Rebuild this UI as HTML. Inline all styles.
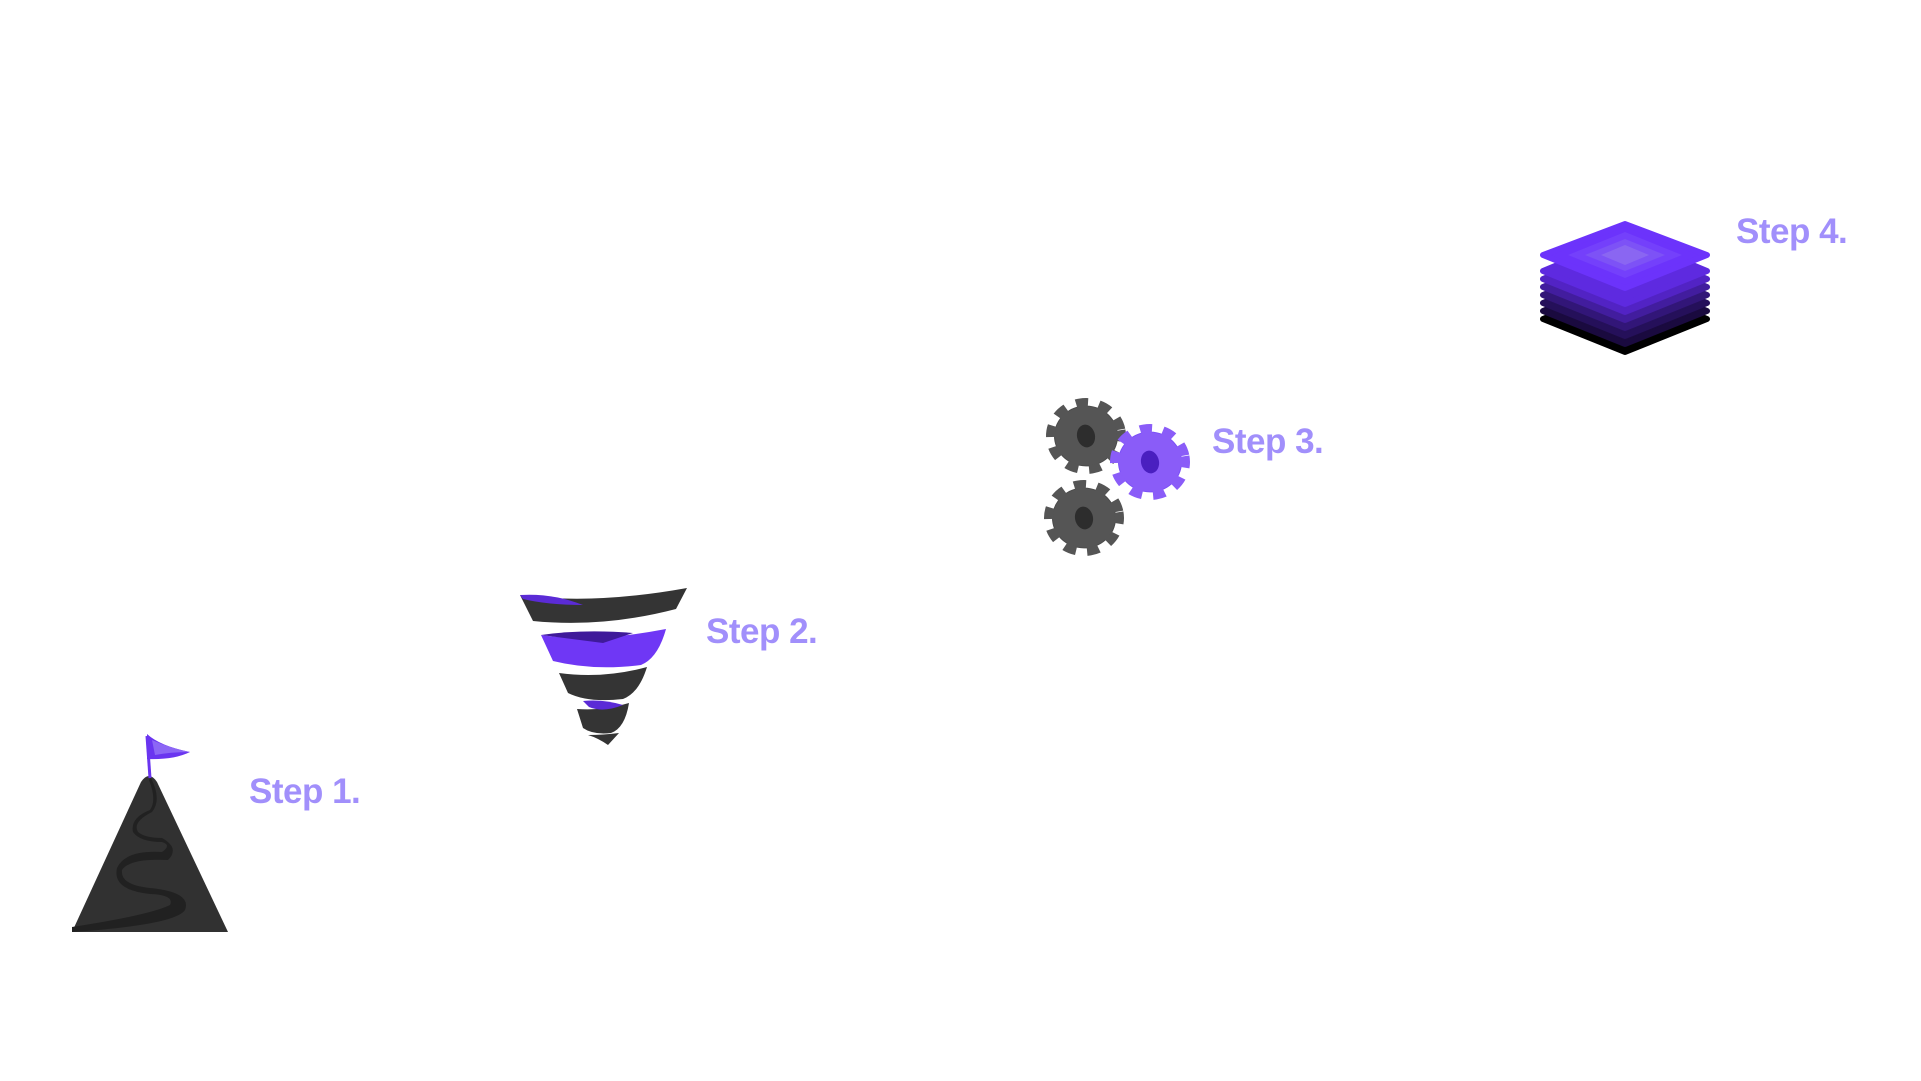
<!DOCTYPE html>
<html><head><style>
html,body{margin:0;padding:0;background:#fff;width:1921px;height:1081px;overflow:hidden}
.t{position:absolute;font-family:"Liberation Sans",sans-serif;font-weight:bold;color:#a18ffb;font-size:35px;letter-spacing:-0.5px;line-height:1}
</style></head><body>
<svg width="1921" height="1081" style="position:absolute;left:0;top:0">
<path d="M72,932 L141,782 Q149,770 157,782 L228,932 Z" fill="#313131"/>
<path d="M151,778 Q162,800 152,812 Q132,822 138,832 Q145,838 162,838 Q180,848 168,860 Q130,858 122,870 Q120,885 150,888 Q192,892 185,910 Q175,925 72,932 L72,927 Q150,915 170,905 Q175,895 150,894 Q112,890 117,868 Q125,850 162,852 Q172,845 162,842 Q140,842 133,832 Q130,818 150,810 Q157,800 149,780 Z" fill="#212121"/>
<line x1="150" y1="778" x2="147" y2="736" stroke="#6a35f0" stroke-width="3"/>
<path d="M147,734 Q160,746 190,752 Q174,760 147,759 Z" fill="#6a35f0"/>
<path d="M152,740 Q170,748 190,752 Q170,752 155,755 Z" fill="#8c66f5"/>
<g transform="translate(-7,-7)">
<path d="M527,602 Q600,612 694,595 L683,616 Q610,635 540,628 Z" fill="#343434"/>
<path d="M527,602 Q560,600 590,612 Q555,612 530,606 Z" fill="#5b2bd6"/>
<path d="M548,642 Q600,650 673,636 Q665,665 648,672 Q600,678 560,668 Z" fill="#6f37f5"/>
<path d="M548,642 Q590,636 640,640 L610,650 Z" fill="#3f1a9a"/>
<path d="M566,680 Q610,686 654,674 Q646,700 630,706 Q595,710 575,700 Z" fill="#343434"/>
<path d="M584,716 Q610,718 636,710 Q632,735 618,740 Q600,742 590,735 Z" fill="#343434"/>
<path d="M590,708 Q610,706 630,712 Q610,720 596,714 Z" fill="#5b2bd6"/>
<path d="M595,742 Q610,742 626,740 L615,752 Q605,745 595,742 Z" fill="#343434"/>
</g>
<g transform="translate(-13,-4)">
<g transform="translate(1099,440) scale(1,0.95) rotate(-10)">
<circle r="32" fill="#4a4a4a" stroke="#555" stroke-width="16" stroke-dasharray="11 10"/>
<circle r="31" fill="#555"/><ellipse rx="9" ry="12" fill="#2d2d2d"/></g>
<g transform="translate(1097,522) scale(1,0.95) rotate(-10)">
<circle r="32" fill="#4a4a4a" stroke="#555" stroke-width="16" stroke-dasharray="11 10"/>
<circle r="31" fill="#555"/><ellipse rx="9" ry="12" fill="#2d2d2d"/></g>
<g transform="translate(1163,466) scale(1,0.95) rotate(-10)">
<circle r="32" fill="#7a4ff6" stroke="#8a5cf8" stroke-width="16" stroke-dasharray="11 10"/>
<circle r="31" fill="#8a5cf8"/><ellipse rx="9" ry="12" fill="#4a1fc0"/></g>
</g>
<g transform="translate(-17,-3)">
<path d="M1560,322 L1642,288 L1724,322 L1642,355 Z" fill="#000" stroke="#000" stroke-width="6" stroke-linejoin="round"/>
<path d="M1560,314 L1642,280 L1724,314 L1642,347 Z" fill="#1a0a3f" stroke="#1a0a3f" stroke-width="6" stroke-linejoin="round"/>
<path d="M1560,306 L1642,272 L1724,306 L1642,339 Z" fill="#25105a" stroke="#25105a" stroke-width="6" stroke-linejoin="round"/>
<path d="M1560,298 L1642,264 L1724,298 L1642,331 Z" fill="#321678" stroke="#321678" stroke-width="6" stroke-linejoin="round"/>
<path d="M1560,290 L1642,256 L1724,290 L1642,323 Z" fill="#421d9e" stroke="#421d9e" stroke-width="6" stroke-linejoin="round"/>
<path d="M1560,282 L1642,248 L1724,282 L1642,315 Z" fill="#5223c4" stroke="#5223c4" stroke-width="6" stroke-linejoin="round"/>
<path d="M1560,274 L1642,240 L1724,274 L1642,307 Z" fill="#5e2ae0" stroke="#5e2ae0" stroke-width="6" stroke-linejoin="round"/>
<path d="M1560,258 L1642,227 L1724,258 L1642,291 Z" fill="#6c33fb" stroke="#6c33fb" stroke-width="6" stroke-linejoin="round"/>
<path d="M1585,258 L1642,235 L1699,258 L1642,281 Z" fill="#7440fb"/>
<path d="M1602,258 L1642,242 L1682,258 L1642,274 Z" fill="#7d52f6"/>
<path d="M1618,258 L1642,248 L1666,258 L1642,268 Z" fill="#8a66f2"/>
</g>
</svg>
<div class="t" style="left:249px;top:774px">Step 1.</div>
<div class="t" style="left:706px;top:614px">Step 2.</div>
<div class="t" style="left:1212px;top:424px">Step 3.</div>
<div class="t" style="left:1736px;top:214px">Step 4.</div>
</body></html>
